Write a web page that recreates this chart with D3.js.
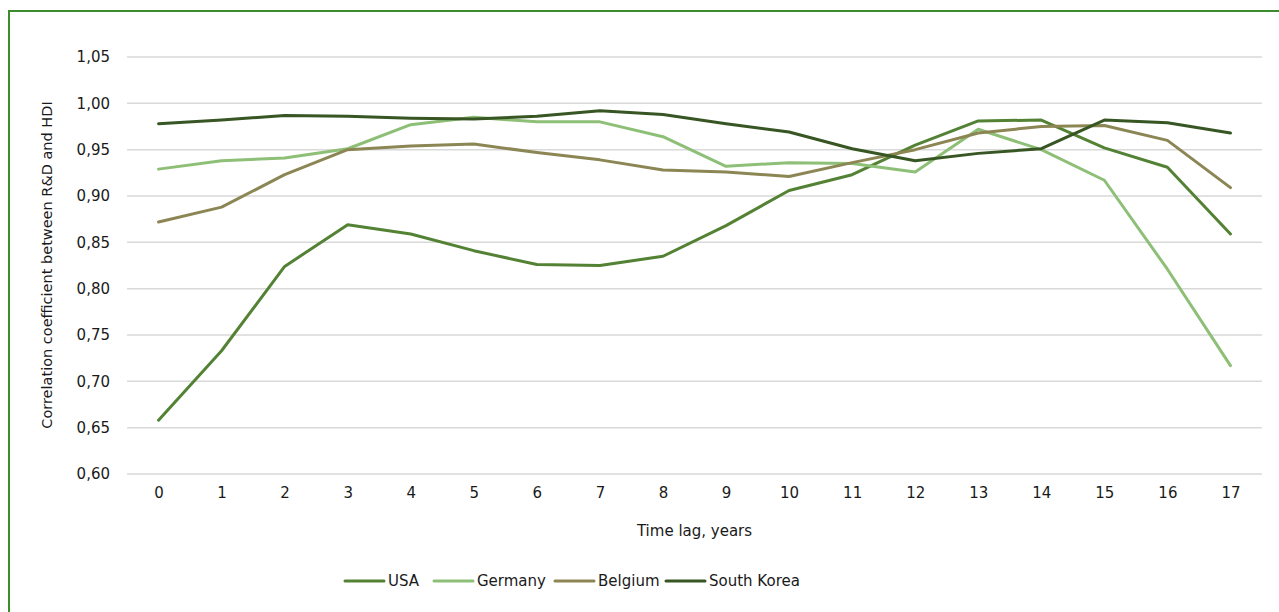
<!DOCTYPE html>
<html>
<head>
<meta charset="utf-8">
<script src="https://cdn.jsdelivr.net/npm/d3@7"></script>
<style>
  body { margin: 0; background: #fff; }
  text { font-family: "DejaVu Sans", sans-serif; fill: #1a1a1a; }
</style>
</head>
<body>
<div id="chart"></div>
<script>
// time lag categories
const lags = d3.range(0, 18);
const yTicks = [0.60, 0.65, 0.70, 0.75, 0.80, 0.85, 0.90, 0.95, 1.00, 1.05];

const usa = [0.658, 0.733, 0.824, 0.869, 0.859, 0.841, 0.826, 0.825, 0.835, 0.868, 0.906, 0.923, 0.955, 0.981, 0.982, 0.952, 0.931, 0.859];
const germany = [0.929, 0.938, 0.941, 0.951, 0.977, 0.985, 0.980, 0.980, 0.964, 0.932, 0.936, 0.935, 0.926, 0.972, 0.950, 0.917, 0.821, 0.717];
const belgium = [0.872, 0.888, 0.923, 0.950, 0.954, 0.956, 0.947, 0.939, 0.928, 0.926, 0.921, 0.936, 0.950, 0.968, 0.975, 0.976, 0.960, 0.909];
const southKorea = [0.978, 0.982, 0.987, 0.986, 0.984, 0.983, 0.986, 0.992, 0.988, 0.978, 0.969, 0.951, 0.938, 0.946, 0.951, 0.982, 0.979, 0.968];

const seriesNames = ['USA', 'Germany', 'Belgium', 'South Korea'];
const seriesValues = [usa, germany, belgium, southKorea];
const colors = ['#548235', '#8dbf76', '#8b8653', '#375623'];

const width = 1279, height = 612;
const margin = { left: 127, right: 17, top: 57, bottom: 138 };

const svg = d3.select('#chart')
  .append('svg')
  .attr('width', width)
  .attr('height', height);

// outer frame
svg.append('rect')
  .attr('x', 9).attr('y', 11)
  .attr('width', 1300).attr('height', 700)
  .attr('fill', 'none')
  .attr('stroke', '#3b8c2c')
  .attr('stroke-width', 2);

const x = d3.scalePoint()
  .domain(lags)
  .range([margin.left, width - margin.right])
  .padding(0.5);

const y = d3.scaleLinear()
  .domain([0.60, 1.05])
  .range([height - margin.bottom, margin.top]);

const fmt = v => d3.format('.2f')(v).replace('.', ',');

// gridlines
svg.append('g')
  .selectAll('line')
  .data(yTicks)
  .join('line')
  .attr('x1', margin.left)
  .attr('x2', width - margin.right)
  .attr('y1', d => y(d))
  .attr('y2', d => y(d))
  .attr('stroke', '#d9d9d9')
  .attr('stroke-width', 1.5);

// y axis labels
const yAxis = svg.append('g')
  .attr('transform', `translate(${margin.left - 17},0)`)
  .call(d3.axisLeft(y).tickValues(yTicks).tickFormat(fmt).tickSize(0).tickPadding(0));
yAxis.select('.domain').remove();
yAxis.selectAll('text').style('font-size', '15px').attr('fill', '#1a1a1a')
  .style('font-family', '"DejaVu Sans", sans-serif');

// x axis labels
const xAxis = svg.append('g')
  .attr('transform', `translate(0,${height - margin.bottom + 13})`)
  .call(d3.axisBottom(x).tickSize(0).tickPadding(0));
xAxis.select('.domain').remove();
xAxis.selectAll('text').style('font-size', '15px').attr('fill', '#1a1a1a')
  .style('font-family', '"DejaVu Sans", sans-serif');

// axis titles
svg.append('text')
  .attr('x', (margin.left + width - margin.right) / 2)
  .attr('y', 536)
  .attr('text-anchor', 'middle')
  .style('font-size', '15px')
  .text('Time lag, years');

svg.append('text')
  .attr('transform', `translate(52,${265}) rotate(-90)`)
  .attr('text-anchor', 'middle')
  .style('font-size', '14.5px')
  .text('Correlation coefficient between R&D and HDI');

// lines
const line = d3.line()
  .x((d, i) => x(lags[i]))
  .y(d => y(d));

svg.append('g')
  .selectAll('path')
  .data(seriesValues)
  .join('path')
  .attr('d', line)
  .attr('fill', 'none')
  .attr('stroke', (d, i) => colors[i])
  .attr('stroke-width', 3)
  .attr('stroke-linejoin', 'round')
  .attr('stroke-linecap', 'round');

// legend
const legendX = [345, 434, 555, 666];
const legend = svg.append('g')
  .selectAll('g')
  .data(seriesNames)
  .join('g')
  .attr('transform', (d, i) => `translate(${legendX[i]},581)`);

legend.append('line')
  .attr('x1', 0).attr('x2', 39)
  .attr('stroke', (d, i) => colors[i])
  .attr('stroke-width', 3)
  .attr('stroke-linecap', 'round');

legend.append('text')
  .attr('x', 43)
  .attr('dy', '0.35em')
  .style('font-size', '15px')
  .text(d => d);
</script>
</body>
</html>
